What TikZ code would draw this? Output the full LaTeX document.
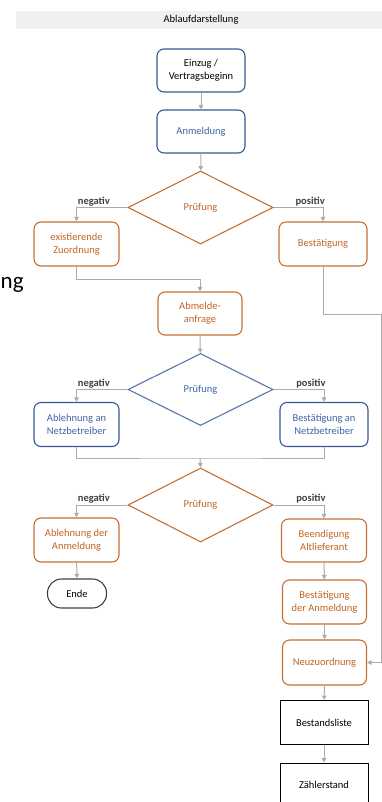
\documentclass[tikz,border=0pt]{standalone}
\usepackage{fontspec}
\setmainfont{Carlito}
\usetikzlibrary{shapes.geometric,arrows.meta}
\definecolor{bluebox}{RGB}{52,88,150}
\definecolor{bluetext}{RGB}{62,100,165}
\definecolor{bluediam}{RGB}{88,118,172}
\definecolor{orangebox}{RGB}{196,112,52}
\definecolor{orangetext}{RGB}{192,100,36}
\definecolor{linegray}{RGB}{172,172,172}
\definecolor{bandgray}{RGB}{240,240,240}
\begin{document}
\begin{tikzpicture}
[
x=1pt, y=-1pt,
every node/.style={font=\fontsize{10.5}{13}\selectfont, align=center, inner sep=1pt},
box/.style={rectangle, rounded corners=7pt, line width=1.1pt, minimum width=86pt, minimum height=44pt},
bluestep/.style={box, draw=bluebox, text=bluetext},
orangestep/.style={box, draw=orangebox, text=orangetext},
check/.style={diamond, line width=1.1pt, minimum width=145pt, minimum height=73pt, inner sep=0pt},
plainbox/.style={rectangle, draw=black, line width=0.9pt, minimum width=88pt, minimum height=44pt},
conn/.style={draw=linegray, line width=1pt, -{Triangle[length=4.5pt,width=4.5pt]}},
link/.style={draw=linegray, line width=1pt},
branch/.style={above, text=black!75, font=\fontsize{10.5}{13}\selectfont\bfseries}
]
\useasboundingbox (0,0) rectangle (382,802);
\clip (0,0) rectangle (382,802);

\fill[bandgray] (16,11) rectangle (382,29);
\node (title) at (201,19.5) {Ablaufdarstellung};
\node[anchor=base west, inner sep=0pt, font=\fontsize{23}{28}\selectfont] (rest) at (0.5,288) {ng};

\node[bluestep, text=black, minimum width=88pt, minimum height=43pt] (einzug) at (201,70.5) {Einzug /\\Vertragsbeginn};
\node[bluestep, minimum width=88pt, minimum height=43pt] (anmeldung) at (201,131.5) {Anmeldung};
\node[check, draw=orangebox, text=orangetext] (pruef1) at (200.5,207.5) {Prüfung};
\node[orangestep, minimum width=85pt] (zuordnung) at (76.5,244) {existierende\\Zuordnung};
\node[orangestep, minimum width=88pt] (bestaetigung) at (323,244) {Bestätigung};
\node[orangestep, minimum width=84pt, minimum height=43pt] (abmeldung) at (200,313.5) {Abmelde-\\anfrage};
\node[check, draw=bluediam, text=bluetext, minimum height=72pt] (pruef2) at (200.5,389.5) {Prüfung};
\node[bluestep, minimum width=85pt] (ablehnungnb) at (76.5,424.5) {Ablehnung an\\Netzbetreiber};
\node[bluestep, minimum width=88pt] (bestaetigungnb) at (324,424.5) {Bestätigung an\\Netzbetreiber};
\node[check, draw=orangebox, text=orangetext, minimum height=74pt] (pruef3) at (200.5,505) {Prüfung};
\node[orangestep, minimum width=85pt] (ablehnunganm) at (76.5,540) {Ablehnung der\\Anmeldung};
\node[rectangle, rounded corners=14pt, draw=black!75, line width=1.1pt, minimum width=59pt, minimum height=29pt] (ende) at (77,593.5) {Ende};
\node[orangestep, minimum width=85pt, minimum height=43pt] (beendigung) at (324,540.5) {Beendigung\\Altlieferant};
\node[orangestep, minimum width=84pt] (bestaetigunganm) at (324.5,602) {Bestätigung\\der Anmeldung};
\node[orangestep, minimum width=84pt, minimum height=45pt] (neuzuordnung) at (324.5,662.5) {Neuzuordnung};
\node[plainbox] (bestandsliste) at (324,722.5) {Bestandsliste};
\node[plainbox] (zaehlerstand) at (324,785) {Zählerstand};

\coordinate (join1) at (200,279);
\coordinate (join2) at (200,458);
\coordinate (rail) at (381,314);

\draw[conn] (einzug) -- (anmeldung);
\draw[conn] (anmeldung) -- (pruef1);
\draw[conn] (pruef1.west) -| node[branch, pos=0.33] {negativ} (zuordnung.north);
\draw[conn] (pruef1.east) -| node[branch, pos=0.37] {positiv} (bestaetigung.north);
\draw[link] (zuordnung.south) |- (join1);
\draw[conn] (join1) -- (abmeldung.north);
\draw[conn] (abmeldung) -- (pruef2);
\draw[conn] (pruef2.west) -| node[branch, pos=0.33] {negativ} (ablehnungnb.north);
\draw[conn] (pruef2.east) -| node[branch, pos=0.37] {positiv} (bestaetigungnb.north);
\draw[link] (ablehnungnb.south) |- (join2) -| (bestaetigungnb.south);
\draw[conn] (join2) -- (pruef3.north);
\draw[conn] (pruef3.west) -| node[branch, pos=0.33] {negativ} (ablehnunganm.north);
\draw[conn] (pruef3.east) -| node[branch, pos=0.37] {positiv} (beendigung.north);
\draw[conn] (ablehnunganm) -- (ende);
\draw[conn] (beendigung) -- (bestaetigunganm);
\draw[conn] (bestaetigunganm) -- (neuzuordnung);
\draw[conn] (neuzuordnung) -- (bestandsliste);
\draw[conn] (bestandsliste) -- (zaehlerstand);
\draw[conn] (bestaetigung.south) |- (rail) |- (neuzuordnung.east);
\end{tikzpicture}
\end{document}
